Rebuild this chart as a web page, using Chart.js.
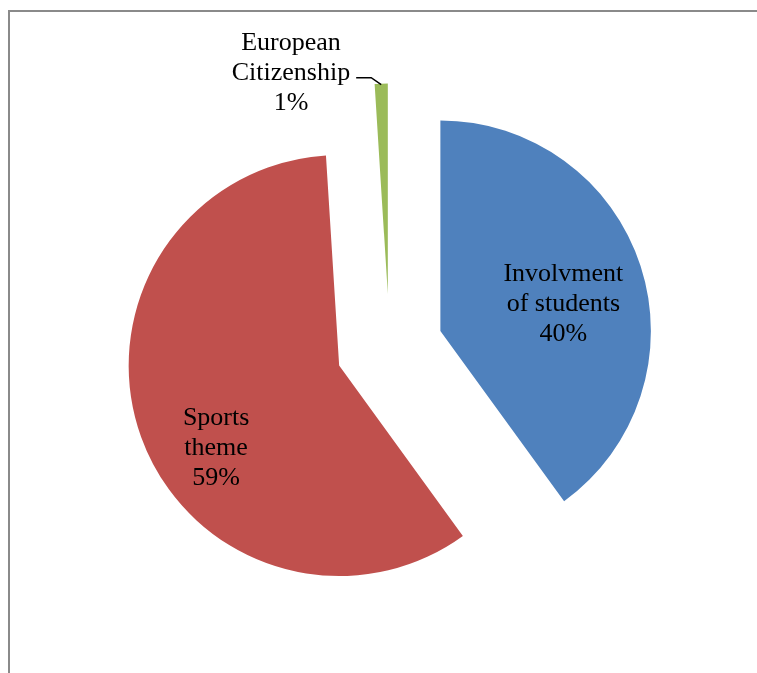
<!DOCTYPE html>
<html>
<head>
<meta charset="utf-8">
<script src="https://cdn.jsdelivr.net/npm/chart.js@4"></script>
<style>
  html, body { margin: 0; padding: 0; background: #fff; }
  #wrap { position: relative; width: 757px; height: 673px; overflow: hidden; }
  #frame {
    position: absolute; left: 8px; top: 10px; right: -4px; bottom: -4px;
    border-left: 2px solid #8a8a8a; border-top: 2px solid #8a8a8a;
  }
  #pieChart { position: absolute; left: 0; top: 0; }
</style>
</head>
<body>
<div id="wrap">
  <div id="frame"></div>
  <canvas id="pieChart" width="757" height="673"></canvas>
</div>
<script>
// data
const categories = [['Involvment', 'of students'], ['Sports', 'theme'], ['European', 'Citizenship']];
const shares     = [40, 59, 1];
const sliceColors = ['#4F81BD', '#C0504D', '#9BBB59'];

// label placement relative to the slice tip (angle shift in degrees, fraction of radius)
const labelShift  = [4.9, -13.2, -21.7];
const labelRadius = [0.60, 0.697, 1.154];
const outsideLabel = [false, false, true];

const explode = 53.5;   // px each slice is pulled out along its middle angle
const labelFont = '26px "Liberation Serif", "Times New Roman", serif';
const lineHeight = 30;

function sliceTip(arc) {
    const mid = (arc.startAngle + arc.endAngle) / 2;
    return { mid, x: arc.x + Math.cos(mid) * explode, y: arc.y + Math.sin(mid) * explode };
}

// draw the library's own arcs, each shifted outwards (exploded pie)
const explodedPie = {
    id: 'explodedPie',
    beforeDatasetDraw(chart, args) {
        const ctx = chart.ctx;
        args.meta.data.forEach(arc => {
            const tip = sliceTip(arc);
            ctx.save();
            ctx.translate(tip.x - arc.x, tip.y - arc.y);
            arc.draw(ctx);
            ctx.restore();
        });
        return false;
    }
};

const sliceLabels = {
    id: 'sliceLabels',
    afterDatasetsDraw(chart) {
        const ctx = chart.ctx;
        const meta = chart.getDatasetMeta(0);
        const total = shares.reduce((a, b) => a + b, 0);
        ctx.save();
        ctx.font = labelFont;
        ctx.fillStyle = '#000';
        ctx.textAlign = 'center';
        ctx.textBaseline = 'alphabetic';
        meta.data.forEach((arc, i) => {
            const r = arc.outerRadius;
            const tip = sliceTip(arc);
            const ang = tip.mid + labelShift[i] * Math.PI / 180;
            const cx = tip.x + Math.cos(ang) * r * labelRadius[i];
            const cy = tip.y + Math.sin(ang) * r * labelRadius[i];
            const lines = [...categories[i], Math.round(shares[i] / total * 100) + '%'];
            const base = cy + 9 - (lines.length - 1) * lineHeight / 2;
            lines.forEach((t, k) => ctx.fillText(t, cx, base + k * lineHeight));

            if (outsideLabel[i]) {
                // leader line from the slice edge to the label
                const px = tip.x + Math.cos(tip.mid) * r;
                const py = tip.y + Math.sin(tip.mid) * r + 1;
                const w = ctx.measureText(lines[1]).width;
                ctx.beginPath();
                ctx.strokeStyle = '#000';
                ctx.lineWidth = 1.5;
                ctx.moveTo(px, py);
                ctx.lineTo(px - 10, py - 7);
                ctx.lineTo(cx + w / 2 + 6, py - 7);
                ctx.stroke();
            }
        });
        ctx.restore();
    }
};

new Chart(document.getElementById('pieChart').getContext('2d'), {
    type: 'pie',
    data: {
        labels: categories.map(c => c.join(' ')),
        datasets: [{
            data: shares,
            backgroundColor: sliceColors,
            borderWidth: 0
        }]
    },
    options: {
        responsive: false,
        animation: false,
        events: [],
        layout: { padding: { left: 179, right: 157, top: 137, bottom: 115 } },
        plugins: {
            legend: { display: false },
            tooltip: { enabled: false },
            title: { display: false }
        }
    },
    plugins: [explodedPie, sliceLabels]
});
</script>
</body>
</html>
